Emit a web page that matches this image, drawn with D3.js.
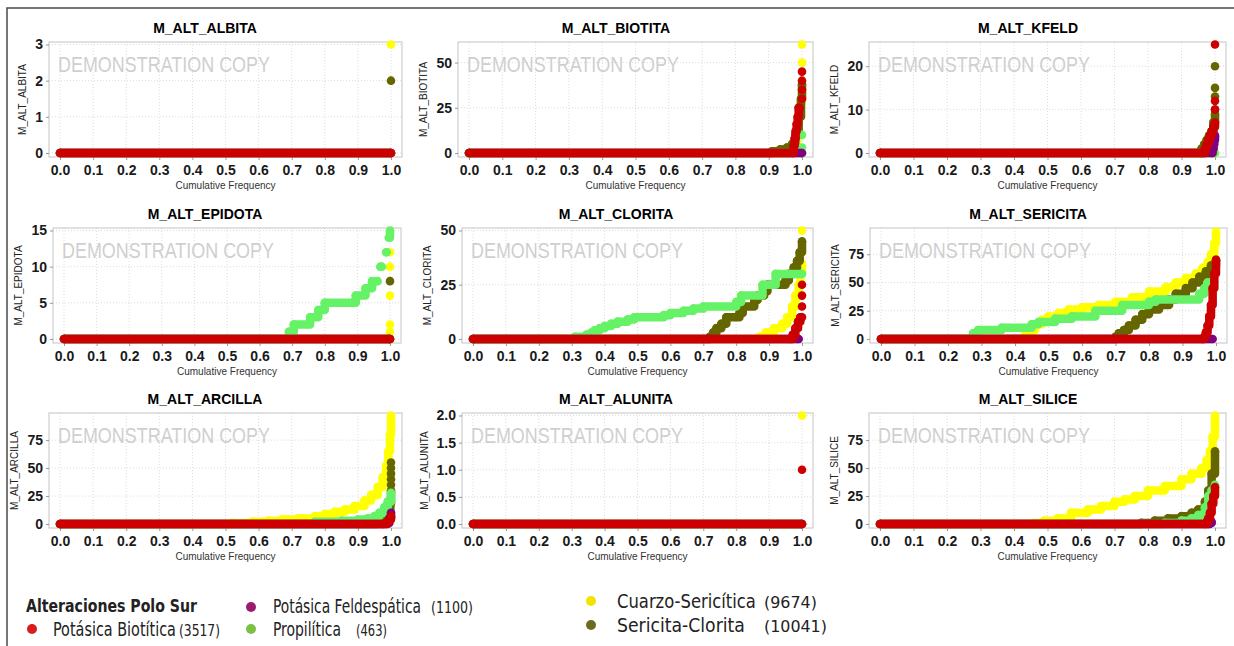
<!DOCTYPE html>
<html lang="en">
<head>
  <meta charset="UTF-8">
  <title>Alteraciones Polo Sur</title>
  <script src="https://d3js.org/d3.v7.min.js"></script>
</head>
<style>
  body { margin: 0; background: #fff; }
  .title { font: bold 14px "Liberation Sans", Arial, sans-serif; fill: #000; text-anchor: middle; }
  .ylab { font: 10px "Liberation Sans", Arial, sans-serif; fill: #222; text-anchor: middle; }
  .xlab { font: 10px "Liberation Sans", Arial, sans-serif; fill: #333; text-anchor: middle; }
  .axis text { font: bold 14px "Liberation Sans", Arial, sans-serif; fill: #1a1a1a; }
  .axis line { stroke: #999; }
  .axis path { display: none; }
  .grid { stroke: #dcdcdc; stroke-dasharray: 1,2; }
  .frame { fill: none; stroke: #c4c4c4; }
  .watermark { font: 22px "Liberation Sans", Arial, sans-serif; fill: #cfcfcf; }
  .curve { fill: none; stroke-width: 8.5; stroke-linejoin: round; }
  .leg { font-family: "DejaVu Sans Condensed", "DejaVu Sans", sans-serif; fill: #222; }
</style>
<body>
<svg id="chart" width="1234" height="646"></svg>

<script>
  // groups shown in the legend (order = data order inside each variable)
  const groups = ["Potásica Biotítica", "Potásica Feldespática", "Propilítica", "Cuarzo-Sericítica", "Sericita-Clorita"];
  const groupCounts = [3517, 1100, 463, 9674, 10041];
  const legendTitle = "Alteraciones Polo Sur";

  const variables = ["M_ALT_ALBITA", "M_ALT_BIOTITA", "M_ALT_KFELD",
                     "M_ALT_EPIDOTA", "M_ALT_CLORITA", "M_ALT_SERICITA",
                     "M_ALT_ARCILLA", "M_ALT_ALUNITA", "M_ALT_SILICE"];
  const yMax = [3, 60, 25, 15, 50, 96, 97, 2, 97];
  const yTicks = [[0, 1, 2, 3], [0, 25, 50], [0, 10, 20],
                  [0, 5, 10, 15], [0, 25, 50], [0, 25, 50, 75],
                  [0, 25, 50, 75], [0, 0.5, 1, 1.5, 2], [0, 25, 50, 75]];
  const xTicks = [0, 0.1, 0.2, 0.3, 0.4, 0.5, 0.6, 0.7, 0.8, 0.9, 1.0];

  // cumulative frequency curves, [cumulative frequency, value]; null = gap between points
  // each variable: [Biotítica, Feldespática, Propilítica, Cuarzo-Sericítica, Sericita-Clorita]
  const albita = [
    [[0,0],[1,0]],
    [[0,0],[1,0]],
    [[0,0],[1,0]],
    [[0,0],[1,0],null,[1,3]],
    [[0,0],[1,0],null,[1,2]]
  ];
  const biotita = [
    [[0,0],[0.972,0],[0.975,4],[0.978,8],[0.981,12],[0.984,16],[0.987,20],[0.99,25],[0.993,25],null,[1,30],null,[1,35],null,[1,40],null,[1,45]],
    [[0,0],[1,0]],
    [[0,0],[1,0],null,[1,3],null,[1,10]],
    [[0,0],[0.94,0],[0.955,1],[0.965,3],[0.975,6],[0.985,12],[0.99,20],[0.995,28],[1,33],null,[1,40],null,[1,50],null,[1,60]],
    [[0,0],[0.91,1],[0.935,2],[0.955,3],[0.97,5],[0.98,10],[0.99,20],[0.997,30],[1,38]]
  ];
  const kfeld = [
    [[0,0],[0.965,0],[0.97,1],[0.975,2],[0.98,3],[0.985,4],[0.99,5],[0.995,6],[1,7],null,[1,10],null,[1,12],null,[1,25]],
    [[0,0],[0.99,0],[0.993,1],[0.996,2],[0.998,3],[1,4]],
    [[0,0],[1,0]],
    [[0,0],[1,0]],
    [[0,0],[0.955,0],[0.96,1],[0.968,2],[0.975,3],[0.982,4],[0.99,5],[0.995,7],[1,9],null,[1,10],null,[1,13],null,[1,15],null,[1,20]]
  ];
  const epidota = [
    [[0,0],[1,0]],
    [[0,0],[1,0]],
    [[0,0],[0.69,1],[0.705,2],[0.755,3],[0.78,4],[0.80,5],[0.895,6],[0.925,7],[0.945,8],[0.962,8],null,[0.97,10],[0.975,10],null,[0.988,12],[0.99,12],null,[0.996,14],[1,15]],
    [[0,0],[1,0],null,[1,1],null,[1,2],null,[1,6],null,[1,10],null,[1,12]],
    [[0,0],[1,0],null,[1,8]]
  ];
  const clorita = [
    [[0,0],[0.965,0],[0.972,2],[0.98,5],[0.988,8],[0.995,10],[1,10],null,[1,15],null,[1,20],null,[1,25]],
    [[0,0],[0.99,0]],
    [[0,0],[0.31,1],[0.345,2],[0.36,3],[0.37,4],[0.385,5],[0.40,6],[0.42,7],[0.44,8],[0.47,9],[0.49,10],[0.58,11],[0.60,12],[0.64,13],[0.67,14],[0.70,15],[0.80,17],[0.815,20],[0.88,25],[0.92,30],[1,30]],
    [[0,0],[0.87,1],[0.89,3],[0.915,5],[0.94,7],[0.955,10],[0.97,15],[0.98,20],[0.99,25],[0.995,30],[1,35],null,[1,40],null,[1,50]],
    [[0,0],[0.72,1],[0.73,3],[0.74,5],[0.755,7],[0.77,10],[0.81,12],[0.82,15],[0.855,18],[0.865,20],[0.885,22],[0.895,25],[0.95,27],[0.96,30],[0.975,33],[0.985,36],[0.993,40],[1,45]]
  ];
  const sericita = [
    [[0,0],[0.96,0],[0.965,2],[0.97,6],[0.975,12],[0.98,20],[0.985,30],[0.99,45],[0.995,58],[1,70]],
    [[0,0],[0.99,0]],
    [[0,0],[0.275,5],[0.29,8],[0.36,10],[0.45,13],[0.47,15],[0.52,18],[0.57,20],[0.64,25],[0.72,30],[0.8,33],[0.82,35],[0.95,40],[0.965,45],[0.975,50],[0.98,50]],
    [[0,0],[0.43,3],[0.445,8],[0.46,13],[0.48,17],[0.50,20],[0.53,23],[0.56,26],[0.60,28],[0.65,30],[0.70,33],[0.75,37],[0.80,42],[0.85,46],[0.88,50],[0.91,54],[0.94,58],[0.96,63],[0.975,68],[0.985,75],[0.995,85],[1,95]],
    [[0,0],[0.70,2],[0.71,5],[0.725,8],[0.74,12],[0.76,17],[0.78,22],[0.80,26],[0.83,30],[0.86,35],[0.88,40],[0.91,45],[0.93,50],[0.95,55],[0.97,60],[0.985,65],[1,70]]
  ];
  const arcilla = [
    [[0,0],[0.975,0],[0.985,1],[0.99,2],[0.995,4],[1,7]],
    [[0,0],[0.99,1],[0.995,5],[1,10]],
    [[0,0],[0.77,2],[0.85,3],[0.9,4],[0.93,5],[0.95,7],[0.965,10],[0.98,15],[0.99,20],[1,28]],
    [[0,0],[0.52,1],[0.58,2],[0.63,3],[0.67,4],[0.72,5],[0.77,7],[0.8,9],[0.83,11],[0.86,13],[0.89,16],[0.92,21],[0.94,26],[0.96,33],[0.975,42],[0.985,52],[0.992,65],[0.997,80],[1,97]],
    [[0,0],[0.96,1],[0.975,2],[0.985,4],[0.99,6],[0.995,10],[0.998,18],[1,30],null,[1,35],null,[1,40],null,[1,45],null,[1,50],null,[1,55]]
  ];
  const alunita = [
    [[0,0],[1,0],null,[1,1]],
    [[0,0],[1,0]],
    [[0,0],[1,0]],
    [[0,0],[1,0],null,[1,2]],
    [[0,0],[1,0]]
  ];
  const silice = [
    [[0,0],[0.97,0],[0.975,2],[0.98,5],[0.985,10],[0.99,18],[0.995,25],[1,33]],
    [[0,0],[0.98,0],[0.985,1],[0.99,2]],
    [[0,0],[0.85,1],[0.9,3],[0.93,5],[0.95,8],[0.97,15],[0.98,25],[0.99,30],[1,35]],
    [[0,0],[0.46,1],[0.49,3],[0.53,5],[0.57,10],[0.62,13],[0.66,16],[0.7,20],[0.73,22],[0.76,25],[0.8,30],[0.85,34],[0.9,40],[0.93,45],[0.96,50],[0.975,57],[0.985,65],[0.993,78],[1,97]],
    [[0,0],[0.78,1],[0.82,3],[0.86,5],[0.9,7],[0.93,10],[0.95,13],[0.97,20],[0.98,30],[0.99,45],[1,65]]
  ];
  const panelData = [albita, biotita, kfeld, epidota, clorita, sericita, arcilla, alunita, silice];

  // styles
  const plotColors = ["#cc0000", "#800080", "#66f266", "#ffff00", "#666600"];
  const legendColors = ["#d61e1e", "#9b1b6e", "#7cc043", "#f0e400", "#6b6a1e"];
  const drawOrder = [3, 4, 2, 1, 0];

  // layout of the 3x3 grid of plot frames
  const frameLeft = [49, 458, 869, 53, 462, 870, 49, 462, 869];
  const frameRight = [402, 813, 1226, 401, 813, 1227, 402, 813, 1226];
  const rowTop = [42, 228, 413];
  const rowBottom = [157, 343, 528];
  const titleX = [205, 616, 1028];

  const svg = d3.select("#chart");

  // outer border of the picture
  svg.append("path")
    .attr("d", "M7,646 L7,8 L1234,8")
    .attr("fill", "none").attr("stroke", "#4a4a4a").attr("stroke-width", 1.5);

  variables.forEach((name, i) => {
    const row = Math.floor(i / 3), col = i % 3;
    const left = frameLeft[i], right = frameRight[i];
    const top = rowTop[row], bottom = rowBottom[row];

    const x = d3.scaleLinear().domain([0, 1]).range([left + 11, right - 11]);
    const y = d3.scaleLinear().domain([0, yMax[i]]).range([bottom - 4, top + 2.5]);

    const g = svg.append("g");

    g.append("text").attr("class", "title")
      .attr("x", titleX[col]).attr("y", top - 9).text(name);

    // grid
    g.selectAll(".gx").data(xTicks).join("line").attr("class", "grid")
      .attr("x1", d => x(d)).attr("x2", d => x(d)).attr("y1", top).attr("y2", bottom);
    g.selectAll(".gy").data(yTicks[i]).join("line").attr("class", "grid")
      .attr("x1", left).attr("x2", right).attr("y1", d => y(d)).attr("y2", d => y(d));

    g.append("rect").attr("class", "frame")
      .attr("x", left).attr("y", top).attr("width", right - left).attr("height", bottom - top);

    g.append("text").attr("class", "watermark")
      .attr("x", left + 9).attr("y", top + 30)
      .attr("textLength", 212).attr("lengthAdjust", "spacingAndGlyphs")
      .text("DEMONSTRATION COPY");

    // axes
    g.append("g").attr("class", "axis")
      .attr("transform", `translate(0,${bottom})`)
      .call(d3.axisBottom(x).tickValues(xTicks).tickFormat(d3.format(".1f")).tickSize(3).tickPadding(5));
    const yAxis = g.append("g").attr("class", "axis")
      .attr("transform", `translate(${left},0)`)
      .call(d3.axisLeft(y).tickValues(yTicks[i])
        .tickFormat(yMax[i] <= 2 ? d3.format(".1f") : d3.format("d")).tickSize(3).tickPadding(3));

    const bb = yAxis.node().getBBox();
    const ly = (top + bottom) / 2;
    const lx = left + bb.x - 9;
    g.append("text").attr("class", "ylab")
      .attr("transform", `translate(${lx},${ly}) rotate(-90)`).text(name);

    g.append("text").attr("class", "xlab")
      .attr("x", (left + right) / 2).attr("y", bottom + 32).text("Cumulative Frequency");

    // curves: stepped runs of dense points plus the points themselves
    const line = d3.line().defined(d => d).curve(d3.curveStepAfter)
      .x(d => x(d[0])).y(d => y(d[1]));
    drawOrder.forEach(s => {
      const pts = panelData[i][s];
      g.append("path").attr("class", "curve")
        .attr("stroke", plotColors[s]).attr("d", line(pts));
      g.selectAll(null).data(pts.filter(d => d)).join("circle")
        .attr("cx", d => x(d[0])).attr("cy", d => y(d[1])).attr("r", 4.3)
        .attr("fill", plotColors[s]);
    });
  });

  // legend: text is squeezed horizontally to the narrow face used in the original
  function fitText(sel, x, y, width) {
    const w = sel.node().getComputedTextLength();
    sel.attr("transform", `translate(${x},${y}) scale(${width / w},1)`);
  }

  const legendLayout = [
    {cx: 32,  cy: 629, tx: 53,  ty: 636, tw: 123, nx: 179, nw: 41},
    {cx: 251, cy: 607, tx: 273, ty: 613, tw: 148, nx: 431, nw: 42},
    {cx: 251, cy: 629, tx: 273, ty: 636, tw: 68,  nx: 356, nw: 31},
    {cx: 591, cy: 601, tx: 617, ty: 608, tw: 139, nx: 764, nw: 53},
    {cx: 591, cy: 625, tx: 617, ty: 632, tw: 128, nx: 764, nw: 63}
  ];
  const legend = svg.append("g");
  const lt = legend.append("text").attr("class", "leg")
    .attr("font-size", 18).attr("font-weight", "bold")
    .attr("fill", "#111").text(legendTitle);
  fitText(lt, 26, 612, 171);

  groups.forEach((grp, k) => {
    const L = legendLayout[k];
    legend.append("circle").attr("cx", L.cx).attr("cy", L.cy).attr("r", 5)
      .attr("fill", legendColors[k]);
    const t = legend.append("text").attr("class", "leg")
      .attr("font-size", 19).text(grp);
    fitText(t, L.tx, L.ty, L.tw);
    const n = legend.append("text").attr("class", "leg")
      .attr("font-size", 15).text(`(${groupCounts[k]})`);
    fitText(n, L.nx, L.ty, L.nw);
  });
</script>
</body>
</html>
